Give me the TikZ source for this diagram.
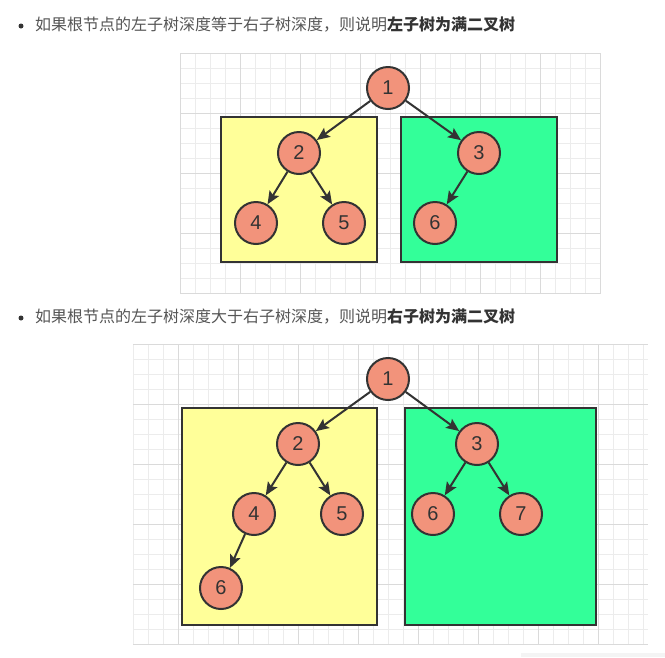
\documentclass[tikz,border=0pt]{standalone}
\usepackage{fontspec}
\usepackage{xcolor}
\usepackage{tikz}
\usetikzlibrary{arrows.meta}
\setsansfont{Liberation Sans}
\newfontfamily\cjk{Noto Sans CJK SC}
\definecolor{ink}{HTML}{333333}
\definecolor{textgray}{HTML}{555555}
\definecolor{salmon}{HTML}{F2937B}
\definecolor{paleyellow}{HTML}{FFFF99}
\definecolor{springgreen}{HTML}{33FF99}
\definecolor{gridminor}{HTML}{ECECEC}
\definecolor{gridmajor}{HTML}{DADADA}
\tikzset{
  % node options
  treenode/.style={circle,draw=ink,fill=salmon,line width=2pt,minimum size=42pt,
    inner sep=0pt,text=ink,font=\sffamily\fontsize{20}{20}\selectfont},
  caption/.style={anchor=west,inner sep=0pt,text=textgray,font=\cjk\fontsize{16}{16}\selectfont},
  % path options
  branch/.style={-{Stealth[length=13pt,width=11pt,inset=2.5pt]},draw=ink,line width=2pt},
  subtree left/.style={draw=ink,fill=paleyellow,line width=2pt},
  subtree right/.style={draw=ink,fill=springgreen,line width=2pt},
  minor line/.style={draw=gridminor,line width=1pt},
  major line/.style={draw=gridmajor,line width=1pt},
}

\begin{document}
\begin{tikzpicture}[x=1pt,y=-1pt]
  \useasboundingbox[fill=white] (0,0) rectangle (665,657);

  % equal depth
  \fill[ink] (21,26) circle (2.5);
  \node[caption] (eqtext) at (35,25)
    {如果根节点的左子树深度等于右子树深度，则说明{\bfseries\color{ink}左子树为满二叉树}};
  \foreach \x in {180,195,...,600} \draw[minor line] (\x,53) -- (\x,293);
  \foreach \y in {53,68,...,293} \draw[minor line] (180,\y) -- (601,\y);
  \foreach \x in {180,240,...,600} \draw[major line] (\x,53) -- (\x,293);
  \foreach \y in {53,113,...,293} \draw[major line] (180,\y) -- (601,\y);
  \draw[subtree left] (221,117) rectangle (377,262);
  \draw[subtree right] (401,117) rectangle (557,262);
  \node[treenode] (eq1) at (388,88) {1};
  \node[treenode] (eq2) at (299,153) {2};
  \node[treenode] (eq3) at (479,153) {3};
  \node[treenode] (eq4) at (256,223) {4};
  \node[treenode] (eq5) at (344,223) {5};
  \node[treenode] (eq6) at (435,223) {6};
  \draw[branch] (eq1) -- (eq2);
  \draw[branch] (eq1) -- (eq3);
  \draw[branch] (eq2) -- (eq4);
  \draw[branch] (eq2) -- (eq5);
  \draw[branch] (eq3) -- (eq6);

  % greater depth
  \fill[ink] (21,318) circle (2.5);
  \node[caption] (gttext) at (35,317)
    {如果根节点的左子树深度大于右子树深度，则说明{\bfseries\color{ink}右子树为满二叉树}};
  \foreach \x in {133,148,...,643} \draw[minor line] (\x,344) -- (\x,645);
  \foreach \y in {344,359,...,644} \draw[minor line] (133,\y) -- (648,\y);
  \foreach \x in {178,238,...,598} \draw[major line] (\x,344) -- (\x,645);
  \foreach \y in {344,404,...,644} \draw[major line] (133,\y) -- (648,\y);
  \draw[subtree left] (182,408) rectangle (377,625);
  \draw[subtree right] (405,408) rectangle (596,625);
  \node[treenode] (gt1) at (388,379) {1};
  \node[treenode] (gt2) at (298,444) {2};
  \node[treenode] (gt3) at (477,444) {3};
  \node[treenode] (gt4) at (254,514) {4};
  \node[treenode] (gt5) at (342,514) {5};
  \node[treenode] (gt6) at (433,514) {6};
  \node[treenode] (gt7) at (521,514) {7};
  \node[treenode] (gt8) at (221,588) {6};
  \draw[branch] (gt1) -- (gt2);
  \draw[branch] (gt1) -- (gt3);
  \draw[branch] (gt2) -- (gt4);
  \draw[branch] (gt2) -- (gt5);
  \draw[branch] (gt3) -- (gt6);
  \draw[branch] (gt3) -- (gt7);
  \draw[branch] (gt4) -- (gt8);

  \fill[gridminor!60] (521,653) rectangle (665,657);
\end{tikzpicture}
\end{document}
